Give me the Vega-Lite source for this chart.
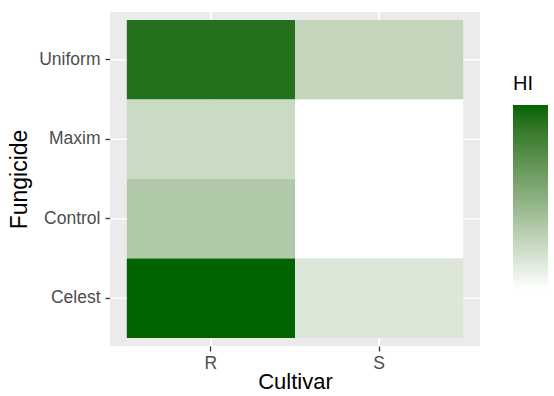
{
  "$schema": "https://vega.github.io/schema/vega-lite/v6.json",
  "width": 370,
  "height": 334,
  "autosize": {"type": "none"},
  "padding": {"left": 110, "top": 12, "right": 74, "bottom": 50},
  "background": "white",
  "config": {
    "view": {"fill": "#EBEBEB", "stroke": null},
    "font": "Liberation Sans",
    "axis": {
      "labelFont": "Liberation Sans", "titleFont": "Liberation Sans",
      "labelFontSize": 17.5, "labelColor": "#4D4D4D",
      "titleFontSize": 23, "titleFontWeight": "normal", "titleColor": "#000000",
      "tickColor": "#333333", "tickSize": 5, "tickWidth": 1.3,
      "domain": false, "grid": false, "bandPosition": 0.5
    },
    "legend": {
      "titleFont": "Liberation Sans", "titleFontSize": 20, "titleFontWeight": "normal", "titleColor": "#000000"
    }
  },
  "data": {
    "values": [
      {"Fungicide": "Uniform", "Cultivar": "R", "HI": 70.8},
      {"Fungicide": "Uniform", "Cultivar": "S", "HI": 20.8},
      {"Fungicide": "Maxim", "Cultivar": "R", "HI": 18.3},
      {"Fungicide": "Maxim", "Cultivar": "S", "HI": 1.3},
      {"Fungicide": "Control", "Cultivar": "R", "HI": 26.9},
      {"Fungicide": "Control", "Cultivar": "S", "HI": 1.3},
      {"Fungicide": "Celest", "Cultivar": "R", "HI": 77},
      {"Fungicide": "Celest", "Cultivar": "S", "HI": 12.4}
    ]
  },
  "layer": [
    {
      "mark": {"type": "rule", "color": "#FFFFFF", "strokeWidth": 1.1},
      "encoding": {
        "x": {"field": "Cultivar", "type": "nominal", "sort": ["R", "S"],
          "scale": {"type": "band", "paddingInner": 0, "paddingOuter": 0.1},
          "axis": {"labelAngle": 0, "labelPadding": 3, "titlePadding": 0, "title": "Cultivar", "titleFontSize": 22, "bandPosition": 0.5}}
      }
    },
    {
      "mark": {"type": "rule", "color": "#FFFFFF", "strokeWidth": 1.1},
      "encoding": {
        "y": {"field": "Fungicide", "type": "nominal", "sort": ["Uniform", "Maxim", "Control", "Celest"],
          "scale": {"type": "band", "paddingInner": 0, "paddingOuter": 0.1},
          "axis": {"labelPadding": 5, "titlePadding": 7, "title": "Fungicide", "bandPosition": 0.5}}
      }
    },
    {
      "mark": {"type": "rect"},
      "encoding": {
        "x": {"field": "Cultivar", "type": "nominal", "sort": ["R", "S"],
          "scale": {"type": "band", "paddingInner": 0, "paddingOuter": 0.1},
          "axis": {"labelAngle": 0, "labelPadding": 3, "titlePadding": 0, "title": "Cultivar", "titleFontSize": 22, "bandPosition": 0.5}},
        "y": {"field": "Fungicide", "type": "nominal", "sort": ["Uniform", "Maxim", "Control", "Celest"],
          "scale": {"type": "band", "paddingInner": 0, "paddingOuter": 0.1},
          "axis": {"labelPadding": 5, "titlePadding": 7, "title": "Fungicide", "bandPosition": 0.5}},
        "color": {
          "field": "HI",
          "type": "quantitative",
          "scale": {"domain": [1.3, 77], "range": ["#FFFFFF", "#006400"], "interpolate": "lab", "nice": false, "zero": false},
          "legend": {
            "title": "HI",
            "orient": "none",
            "legendX": 403,
            "legendY": 62,
            "titleFontSize": 20,
            "titlePadding": 11,
            "gradientLength": 184,
            "gradientThickness": 35,
            "gradientStrokeWidth": 0,
            "labelExpr": "''",
            "direction": "vertical"
          }
        }
      }
    }
  ]
}
